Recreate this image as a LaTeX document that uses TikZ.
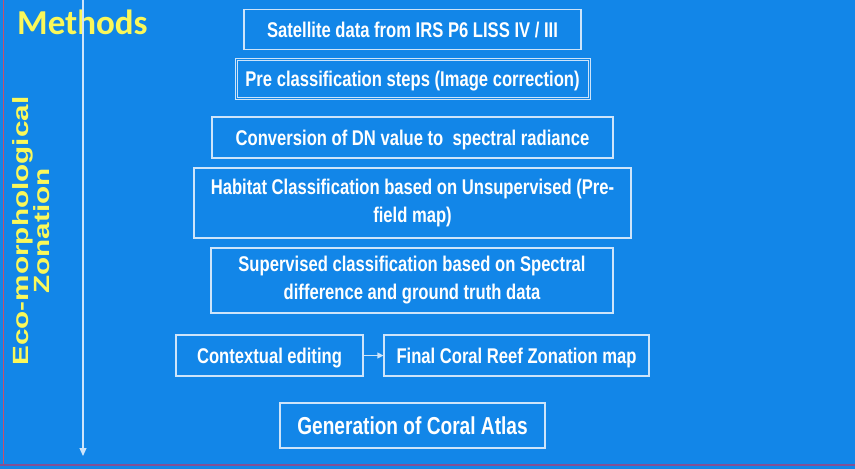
\documentclass[tikz,border=0pt]{standalone}
\usepackage{fontspec}
\setmainfont{Liberation Sans}[FakeStretch=0.78]
\newfontfamily\methodsfont{Carlito}
\newfontfamily\sidefont{Liberation Sans}[FakeStretch=1.35]
\usetikzlibrary{arrows.meta}
\definecolor{bgblue}{RGB}{18,134,232}
\definecolor{boxline}{RGB}{205,228,250}
\definecolor{ytext}{RGB}{250,248,90}
\definecolor{redline}{RGB}{200,80,110}
\definecolor{purpline}{RGB}{130,80,150}
\begin{document}
\begin{tikzpicture}[x=1pt,y=-1pt,
  stepbox/.style={draw=boxline,line width=1.2pt,text=white,inner sep=0pt,
    font=\fontsize{21.3}{28}\selectfont\bfseries,align=center,minimum height=41pt},
  oneline/.style={text height=15.3pt,text depth=0pt},
  conn/.style={draw=boxline,line width=1.2pt,-{Triangle[length=8pt,width=7pt]}}]
\fill[bgblue] (0,0) rectangle (855,469);
\useasboundingbox (0,0) rectangle (855,469);
\draw[redline,line width=1.2pt] (3.5,0) -- (3.5,464);
\draw[purpline,line width=2pt] (0,465) -- (855,465);
% title
\node[anchor=base west,text=ytext,inner sep=0pt,font=\methodsfont\fontsize{35}{35}\selectfont\bfseries] (title) at (17,34) {Methods};
% side label
\node[rotate=90,text=ytext,inner sep=0pt,align=center,font=\sidefont\fontsize{22}{19}\selectfont\bfseries] (side) at (31,231) {Eco-morphological\\Zonation};
% vertical arrow
\coordinate (atop) at (83,0);
\coordinate (abot) at (83,456);
\draw[conn] (atop) -- (abot);
% boxes
\node[stepbox,oneline,minimum width=337pt,minimum height=40pt] (sat) at (412.5,29.5) {Satellite data from IRS P6 LISS IV / III};
\node[stepbox,oneline,double=bgblue,double distance=1pt,line width=1pt,minimum width=353pt,minimum height=39pt] (pre) at (412.5,78.5) {Pre classification steps (Image correction)};
\node[stepbox,oneline,minimum width=401pt] (conv) at (412.5,137.5) {Conversion of DN value to~ spectral radiance};
\node[stepbox,minimum width=437pt,minimum height=70pt] (hab) at (412.5,203) {Habitat Classification based on Unsupervised (Pre-\\field map)};
\node[stepbox,minimum width=402pt,minimum height=65pt] (sup) at (412,280.5) {Supervised classification based on Spectral\\difference and ground truth data};
\node[stepbox,oneline,minimum width=187pt] (ctx) at (269.5,355.5) {Contextual editing};
\node[stepbox,oneline,minimum width=265pt] (fin) at (516.5,355.5) {Final Coral Reef Zonation map};
\node[stepbox,minimum width=265pt,minimum height=45pt,text height=17.5pt,text depth=0pt,font=\fontsize{24.5}{28}\selectfont\bfseries] (gen) at (412.5,425.5) {Generation of Coral Atlas};
\draw[conn,-{Triangle[length=6pt,width=6pt]}] (ctx) -- (fin);
\end{tikzpicture}
\end{document}
